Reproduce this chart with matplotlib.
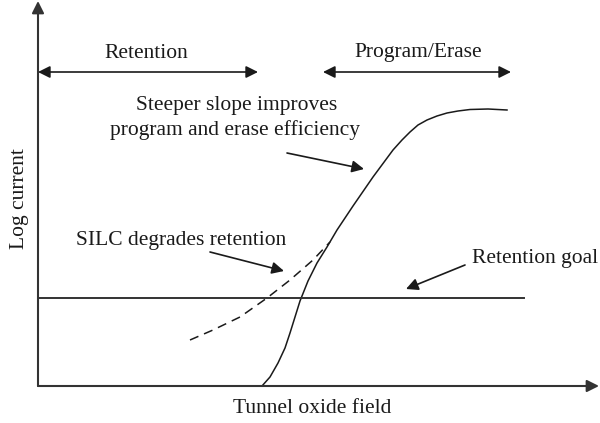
import matplotlib.pyplot as plt

plt.rcParams['font.family'] = ['Liberation Serif', 'DejaVu Serif']

# schematic curves (field, log current), origin at axes corner
field_fn = [224, 232, 240, 247, 252, 257, 262, 270, 279, 289, 299, 315, 335, 355, 364, 372, 380, 389, 399, 409, 420, 432, 450, 469]
current_fn = [0, 9, 23, 38, 53, 69, 85, 105, 123, 139, 156, 180, 209, 236, 246, 254, 261, 266, 270, 273, 275, 276.5, 277, 276]

field_silc = [152, 175, 202, 229, 252, 275, 292]
current_silc = [46, 56, 69, 88, 106, 126, 144]

goal_level = 88
goal_end = 486

ink = '#1a1a1a'
fs = 15.5

fig = plt.figure(figsize=(6.0, 4.23), dpi=100)
ax = fig.add_axes([0, 0, 1, 1])
ax.set_xlim(-38, 562)
ax.set_ylim(-37, 386)
ax.axis('off')

arr = dict(arrowstyle='-|>', color=ink, lw=1.2, mutation_scale=18, shrinkA=0, shrinkB=0)
dbl = dict(arrowstyle='<|-|>', color=ink, lw=1.2, mutation_scale=18, shrinkA=0, shrinkB=0)

# axes
ax.annotate('', xy=(561, 0), xytext=(0, 0), arrowprops=dict(arr, lw=1.5, color='#333333'))
ax.annotate('', xy=(0, 385), xytext=(0, 0), arrowprops=dict(arr, lw=1.5, color='#333333'))

# curves
ax.plot(field_fn, current_fn, color=ink, lw=1.1, solid_joinstyle='round')
ax.plot(field_silc, current_silc, color=ink, lw=1.1, dashes=(6, 4))
ax.plot([0, goal_end], [goal_level, goal_level], color='#333333', lw=1.4)

# region arrows
ax.annotate('', xy=(220, 314), xytext=(0, 314), arrowprops=dbl)
ax.text(108, 333, 'Retention', ha='center', va='center', fontsize=fs, color=ink)
ax.annotate('', xy=(473, 314), xytext=(285, 314), arrowprops=dbl)
ax.text(380, 334, 'Program/Erase', ha='center', va='center', fontsize=fs, color=ink)

# annotations
ax.text(199, 281, 'Steeper slope improves', ha='center', va='center', fontsize=fs, color=ink)
ax.text(197, 256, 'program and erase efficiency', ha='center', va='center', fontsize=fs, color=ink)
ax.annotate('', xy=(326, 217), xytext=(249, 233), arrowprops=arr)

ax.text(143, 146, 'SILC degrades retention', ha='center', va='center', fontsize=fs, color=ink)
ax.annotate('', xy=(246, 115), xytext=(172, 134), arrowprops=arr)

ax.text(497, 128, 'Retention goal', ha='center', va='center', fontsize=fs, color=ink)
ax.annotate('', xy=(368, 97), xytext=(427, 121), arrowprops=arr)

# axis labels
ax.text(-18, 187, 'Log current', ha='center', va='center', rotation=90, fontsize=fs, color=ink)
ax.text(274, -22, 'Tunnel oxide field', ha='center', va='center', fontsize=fs, color=ink)

fig.savefig('out.png', dpi=100, facecolor='white')
